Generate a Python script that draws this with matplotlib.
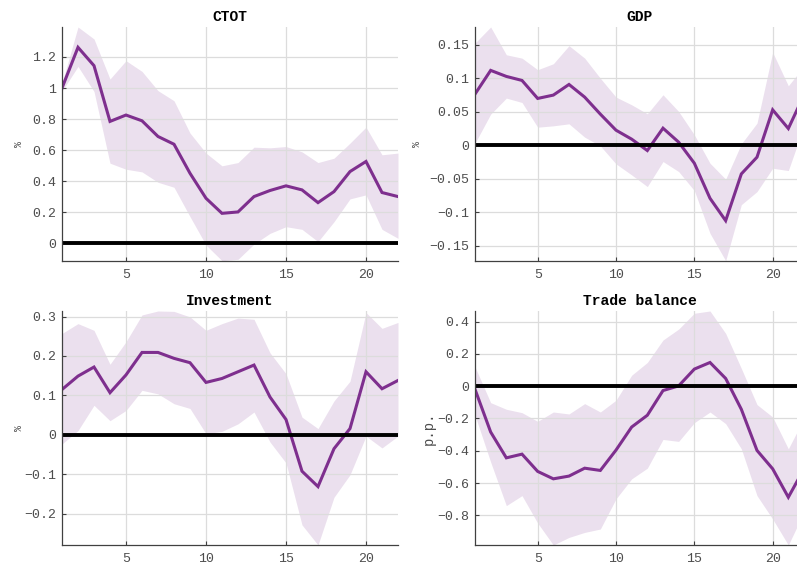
import matplotlib
matplotlib.use("Agg")
import matplotlib.pyplot as plt
from matplotlib.ticker import FuncFormatter
import numpy as np

horizon = list(range(1, 23))

# CTOT response (median and band)
ctot_med = [1.00, 1.262, 1.144, 0.785, 0.826, 0.789, 0.688, 0.638, 0.451, 0.290, 0.193,
            0.202, 0.301, 0.340, 0.370, 0.344, 0.262, 0.333, 0.462, 0.527, 0.327, 0.301]
ctot_hi = [1.03, 1.393, 1.316, 1.058, 1.176, 1.107, 0.983, 0.918, 0.710, 0.581, 0.499,
           0.520, 0.619, 0.615, 0.623, 0.589, 0.520, 0.548, 0.645, 0.748, 0.570, 0.581]
ctot_lo = [0.98, 1.139, 0.978, 0.516, 0.477, 0.460, 0.393, 0.361, 0.172, -0.011, -0.112,
           -0.103, -0.005, 0.064, 0.107, 0.090, 0.011, 0.139, 0.286, 0.312, 0.090, 0.032]

# GDP response
gdp_med = [0.0763, 0.1117, 0.1027, 0.0967, 0.0698, 0.0748, 0.0907, 0.0718, 0.0464, 0.0224, 0.0090,
           -0.0080, 0.0254, 0.0045, -0.0269, -0.0793, -0.1127, -0.0429, -0.0179, 0.0528, 0.0249, 0.075]
gdp_hi = [0.1525, 0.1765, 0.135, 0.130, 0.1127, 0.1216, 0.1486, 0.130, 0.100, 0.0718, 0.0603,
          0.0469, 0.0753, 0.0503, 0.0155, -0.0269, -0.0508, 0.0020, 0.0329, 0.1386, 0.0887, 0.118]
gdp_lo = [0.003, 0.0464, 0.0703, 0.0638, 0.0269, 0.0289, 0.0319, 0.012, -0.001, -0.0279, -0.0444,
          -0.0618, -0.0244, -0.0394, -0.0678, -0.1316, -0.1725, -0.0888, -0.0693, -0.0344, -0.0379, 0.029]

# Investment response
inv_med = [0.115, 0.149, 0.172, 0.107, 0.152, 0.209, 0.209, 0.194, 0.183, 0.133, 0.143,
           0.160, 0.177, 0.096, 0.039, -0.092, -0.131, -0.035, 0.016, 0.160, 0.117, 0.138]
inv_hi = [0.257, 0.282, 0.265, 0.179, 0.236, 0.304, 0.314, 0.313, 0.299, 0.265, 0.282,
          0.296, 0.293, 0.208, 0.155, 0.045, 0.016, 0.086, 0.136, 0.310, 0.270, 0.285]
inv_lo = [-0.023, 0.011, 0.075, 0.036, 0.062, 0.113, 0.104, 0.079, 0.067, 0.003, 0.009,
          0.028, 0.058, -0.018, -0.071, -0.228, -0.279, -0.158, -0.101, -0.003, -0.033, -0.003]

# Trade balance response
tb_med = [-0.019, -0.284, -0.444, -0.421, -0.528, -0.574, -0.557, -0.508, -0.522, -0.396, -0.253,
          -0.180, -0.027, 0.002, 0.106, 0.147, 0.048, -0.143, -0.398, -0.512, -0.688, -0.512]
tb_hi = [0.120, -0.102, -0.143, -0.164, -0.218, -0.160, -0.172, -0.108, -0.160, -0.087, 0.068,
         0.147, 0.286, 0.354, 0.452, 0.466, 0.327, 0.110, -0.114, -0.191, -0.388, -0.20]
tb_lo = [-0.180, -0.470, -0.740, -0.678, -0.848, -0.984, -0.937, -0.906, -0.885, -0.698, -0.574,
         -0.508, -0.330, -0.342, -0.226, -0.160, -0.232, -0.388, -0.678, -0.823, -0.984, -0.78]

titles = ["CTOT", "GDP", "Investment", "Trade balance"]
units = ["%", "%", "%", "p.p."]
yticks = [
    [0, 0.2, 0.4, 0.6, 0.8, 1, 1.2],
    [-0.15, -0.1, -0.05, 0, 0.05, 0.1, 0.15],
    [-0.2, -0.1, 0, 0.1, 0.2, 0.3],
    [-0.8, -0.6, -0.4, -0.2, 0, 0.2, 0.4],
]
xticks = [5, 10, 15, 20]

panels = [
    (ctot_med, ctot_lo, ctot_hi),
    (gdp_med, gdp_lo, gdp_hi),
    (inv_med, inv_lo, inv_hi),
    (tb_med, tb_lo, tb_hi),
]

W, H = 797, 565
fig = plt.figure(figsize=(W / 100, H / 100), dpi=100)

# axes rectangles in pixels: (left, top, right, bottom)
rects = [
    (62, 27, 398, 260.7),
    (475, 27, 804, 260.7),
    (62, 311, 398, 545),
    (475, 311, 804, 545),
]
label_x = [-0.113, -0.161, -0.113, -0.119]
label_size = [7, 7, 7, 10]

purple = "#7E2F8E"
mono = ["Liberation Mono", "DejaVu Sans Mono"]
tick_grey = "#4d4d4d"


def fmt(v, pos):
    s = f"{v:g}"
    return s.replace("-", "\u2212")


for i, (med, lo, hi) in enumerate(panels):
    l, t, r, b = rects[i]
    ax = fig.add_axes([l / W, 1 - b / H, (r - l) / W, (b - t) / H])
    x = np.array(horizon)
    ax.fill_between(x, lo, hi, color=purple, alpha=0.15, linewidth=0, zorder=1)
    ax.plot(x, med, color=purple, lw=2.2, zorder=3, solid_joinstyle="miter")
    ax.axhline(0, color="black", lw=2.8, zorder=4)

    ax.set_xlim(1, 22)
    ax.set_ylim(min(lo), max(hi))
    ax.set_xticks(xticks)
    ax.set_yticks(yticks[i])
    ax.yaxis.set_major_formatter(FuncFormatter(fmt))

    ax.set_axisbelow(False)
    ax.grid(True, color="#dcdcdc", lw=0.9)
    for side in ("top", "right"):
        ax.spines[side].set_visible(False)
    for side in ("left", "bottom"):
        ax.spines[side].set_color("#404040")
        ax.spines[side].set_linewidth(0.9)
        ax.spines[side].set_zorder(5)
    ax.tick_params(direction="in", length=3, width=0.8, colors="#404040",
                   labelcolor=tick_grey, labelsize=9.5, pad=4)
    ax.tick_params(axis="x", pad=6)
    for lab in ax.get_xticklabels() + ax.get_yticklabels():
        lab.set_family(mono)

    ax.set_title(titles[i], family=mono, fontweight="bold", fontsize=10.5, pad=4, color="black")
    ax.set_ylabel(units[i], family=mono, fontsize=label_size[i], color=tick_grey)
    ax.yaxis.set_label_coords(label_x[i], 0.5)

fig.savefig("out.png", dpi=100)
